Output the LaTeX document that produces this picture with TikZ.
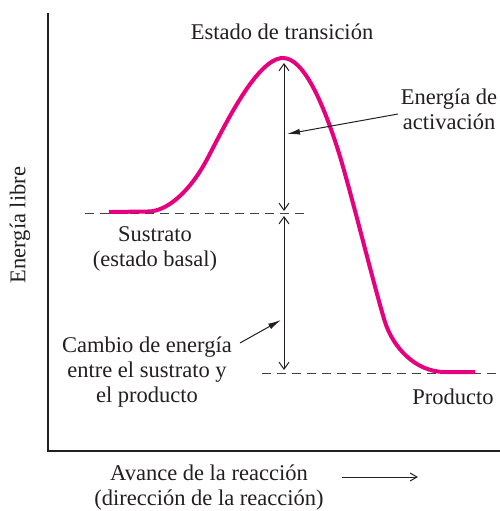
\documentclass[tikz,border=0pt]{standalone}
\usepackage{fontspec}
\setmainfont{Liberation Serif}
\usetikzlibrary{arrows.meta}
\definecolor{curvepink}{RGB}{230,0,126}
\definecolor{ink}{RGB}{35,31,32}
\tikzset{
  lbl/.style={align=center, inner sep=0pt, text=ink, font=\fontsize{22.5}{25}\selectfont},
  axisline/.style={draw=ink, line width=2pt},
  guide/.style={draw=ink!85, line width=1pt, dash pattern=on 9pt off 6pt},
  dimarrow/.style={draw=ink, line width=1pt, {Straight Barb[length=7pt,width=10pt]}-{Straight Barb[length=7pt,width=10pt]}},
  pointer/.style={draw=ink, line width=1pt, -{Latex[length=13pt,width=6pt]}},
  dirarrow/.style={draw=ink, line width=1pt, -{Straight Barb[length=7pt,width=8pt]}},
}
\begin{document}
\begin{tikzpicture}[x=1pt,y=-1pt]
\useasboundingbox (0,0) rectangle (500,511);
% axes
\coordinate (ytop) at (48,13);
\coordinate (origin) at (48,451);
\coordinate (xend) at (501,451);
\draw[axisline] (ytop) -- (origin) -- (xend);
% guide lines
\coordinate (g1a) at (85,213); \coordinate (g1b) at (307,213);
\coordinate (g2a) at (262,373); \coordinate (g2b) at (500,373);
\draw[guide] (g1a) -- (g1b);
\draw[guide] (g2a) -- (g2b);
% curve
\draw[curvepink, line width=4pt, line cap=butt, line join=round]
 (109,212) -- (148,211.5)
 .. controls (168,211.5) and (190,190) .. (205,163)
 .. controls (219,138) and (255,58) .. (283,58)
 .. controls (303,58) and (322,100) .. (338,150)
 .. controls (350,188) and (375,290) .. (385,322)
 .. controls (393,347) and (415,372) .. (445,372)
 -- (475,372);
% dimension arrows
\coordinate (a1t) at (284,63); \coordinate (a1b) at (284,211);
\coordinate (a2t) at (284,216); \coordinate (a2b) at (284,370);
\draw[dimarrow] (a1t) -- (a1b);
\draw[dimarrow] (a2t) -- (a2b);
% labels
\node[lbl] (ts) at (282,32) {Estado de transición};
\node[lbl] (ea) at (449,109) {Energía de\\activación};
\node[lbl] (sub) at (155,249) {Sustrato\\(estado basal)};
\node[lbl] (dg) at (147,372) {Cambio de energía\\entre el sustrato y\\el producto};
\node[lbl] (prod) at (453,397) {Producto};
\node[lbl, rotate=90] (ylab) at (20,225) {Energía libre};
\node[lbl] (xlab) at (209,488) {Avance de la reacción\\(dirección de la reacción)};
% pointers
\coordinate (eaS) at (398,114); \coordinate (eaT) at (287,134);
\draw[pointer] (eaS) -- (eaT);
\coordinate (dgS) at (240,343); \coordinate (dgT) at (281,320);
\draw[pointer] (dgS) -- (dgT);
\coordinate (dirS) at (342,477); \coordinate (dirT) at (418,477);
\draw[dirarrow] (dirS) -- (dirT);
\end{tikzpicture}
\end{document}
